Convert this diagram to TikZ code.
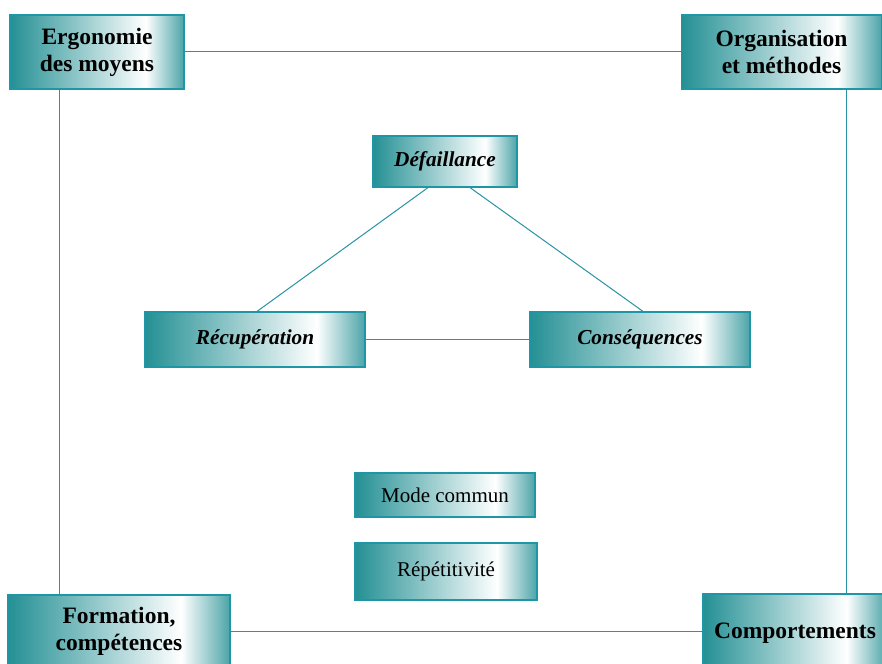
\documentclass[tikz,border=0pt]{standalone}
\usepackage{fontspec}
\setmainfont{Liberation Serif}
\definecolor{tealL}{RGB}{36,144,148}
\definecolor{tealR}{RGB}{76,164,168}
\definecolor{edgec}{RGB}{30,150,165}
\definecolor{linec}{RGB}{40,148,165}
\pgfdeclarehorizontalshading{boxshade}{100bp}{color(0bp)=(tealL); color(25bp)=(tealL); color(64bp)=(white); color(75bp)=(tealR); color(100bp)=(tealR)}
\tikzset{
  box/.style={draw=edgec, line width=1.2pt, shading=boxshade, inner sep=0pt, align=center, text=black},
  corner/.style={box, font=\bfseries\fontsize{23.5}{27}\selectfont},
  mid/.style={box, font=\bfseries\itshape\fontsize{21.3}{24}\selectfont},
  small/.style={box, font=\fontsize{21}{24}\selectfont},
  conn/.style={draw=linec, line width=1pt}
}
\begin{document}
\begin{tikzpicture}[x=1pt,y=-1pt]
\clip (0,0) rectangle (882,663);
\fill[white] (0,0) rectangle (882,663);
% corner boxes
\node[corner, minimum width=174pt, minimum height=74pt] (erg) at (97,52) {Ergonomie\\des moyens};
\node[corner, minimum width=200pt, minimum height=74pt] (org) at (781.5,52) {Organisation\\et méthodes};
\node[corner, minimum width=222pt, minimum height=72pt] (frm) at (119,631) {Formation,\\compétences};
\node[corner, minimum width=184pt, minimum height=80pt] (com) at (795,634) {\raisebox{6pt}{Comportements}};
% triangle
\node[mid, minimum width=144pt, minimum height=51pt] (def) at (445,161.5) {Défaillance};
\node[mid, minimum width=220pt, minimum height=55pt] (rec) at (255,339.5) {Récupération};
\node[mid, minimum width=220pt, minimum height=55pt] (con) at (640,339.5) {Conséquences};
% small boxes
\node[small, minimum width=180pt, minimum height=44pt] (mod) at (445,495) {Mode commun};
\node[small, minimum width=182pt, minimum height=57pt] (rep) at (446,571.5) {Répétitivité};
% connectors
\draw[conn] (erg.east) -- (org.west);
\draw[conn] (frm.east) -- (frm.east -| com.west);
\draw[conn] ([xshift=50pt]erg.south west) -- ([xshift=50pt]erg.south west |- frm.north);
\draw[conn] ([xshift=-36pt]org.south east) -- ([xshift=-36pt]org.south east |- com.north);
\draw[conn] ([xshift=-17pt]def.south) -- ([xshift=2pt]rec.north);
\draw[conn] ([xshift=25pt]def.south) -- ([xshift=3pt]con.north);
\draw[conn] (rec.east) -- (con.west);
\end{tikzpicture}
\end{document}
